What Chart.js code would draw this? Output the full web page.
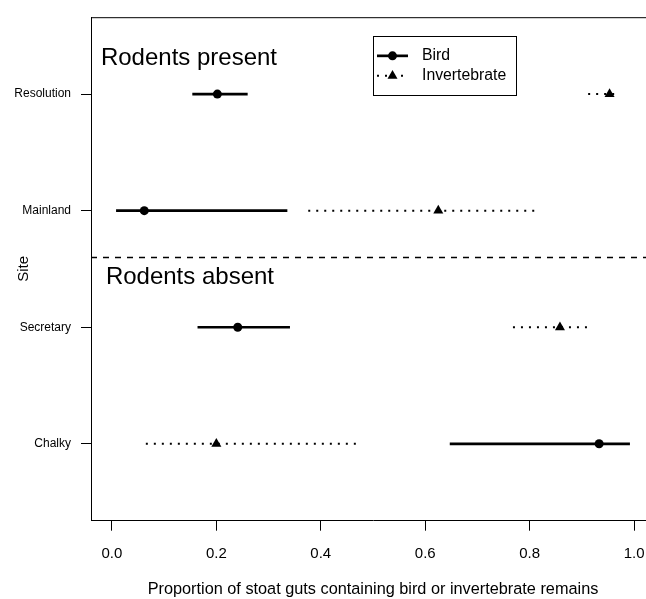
<!DOCTYPE html>
<html>
<head>
<meta charset="utf-8">
<script src="https://cdn.jsdelivr.net/npm/chart.js@4.4.1/dist/chart.umd.min.js"></script>
<style>
html, body { margin: 0; padding: 0; overflow: hidden; background: #fff; }
#wrap { width: 665px; height: 599px; }
</style>
</head>
<body>
<div id="wrap"><canvas id="chart" width="665" height="599"></canvas></div>
<script>
// sites from bottom (y = 1) to top (y = 4)
var sites = [ "Chalky", "Secretary", "Mainland", "Resolution" ];
var birdMean = [ 0.933, 0.241, 0.062, 0.202 ];
var birdLow = [ 0.647, 0.164, 0.008, 0.154 ];
var birdHigh = [ 0.992, 0.341, 0.336, 0.260 ];
var invertMean = [ 0.200, 0.858, 0.625, 0.953 ];
var invertLow = [ 0.065, 0.768, 0.376, 0.912 ];
var invertHigh = [ 0.472, 0.918, 0.814, 0.965 ];
var xTicks = [ 0, 0.2, 0.4, 0.6, 0.8, 1.0 ];
var seriesNames = [ "Bird", "Invertebrate" ];
var groupNames = [ "Rodents present", "Rodents absent" ];

var FONT = "'Liberation Sans', Arial, sans-serif";
var dotted = [ 2, 6 ];

var datasets = [];
sites.forEach( function( s, i ) {
    datasets.push( {
        type: "line",
        data: [ { x: birdLow[ i ], y: i + 1 }, { x: birdHigh[ i ], y: i + 1 } ],
        borderColor: "#000",
        borderWidth: 2.7,
        pointRadius: 0,
        order: 2
    } );
    datasets.push( {
        type: "line",
        data: [ { x: invertLow[ i ], y: i + 1 }, { x: invertHigh[ i ], y: i + 1 } ],
        borderColor: "#000",
        borderWidth: 2,
        borderDash: dotted,
        borderCapStyle: "butt",
        pointRadius: 0,
        order: 2
    } );
} );
datasets.push( {
    type: "scatter",
    label: seriesNames[ 0 ],
    data: birdMean.map( function( v, i ) { return { x: v, y: i + 1 }; } ),
    pointStyle: "circle",
    pointRadius: 4.5,
    backgroundColor: "#000",
    borderColor: "#000",
    borderWidth: 0,
    order: 1
} );
datasets.push( {
    type: "scatter",
    label: seriesNames[ 1 ],
    data: invertMean.map( function( v, i ) { return { x: v, y: i + 1 }; } ),
    pointStyle: "triangle",
    pointRadius: 5.8,
    backgroundColor: "#000",
    borderColor: "#000",
    borderWidth: 0,
    order: 1
} );

var extras = {
    id: "extras",
    afterDraw: function( chart ) {
        var ctx = chart.ctx, a = chart.chartArea;
        var xs = chart.scales.x, ys = chart.scales.y;
        ctx.save();
        // top of the box
        ctx.strokeStyle = "#000";
        ctx.lineWidth = 1;
        ctx.beginPath();
        ctx.moveTo( a.left, a.top + 0.5 );
        ctx.lineTo( a.right, a.top + 0.5 );
        ctx.stroke();
        // divider between groups
        var yd = Math.round( ys.getPixelForValue( 2.6 ) ) + 0.5;
        ctx.setLineDash( [ 6, 6 ] );
        ctx.lineWidth = 1.3;
        ctx.beginPath();
        ctx.moveTo( a.left, yd );
        ctx.lineTo( a.right, yd );
        ctx.stroke();
        ctx.setLineDash( [] );
        // group labels
        ctx.fillStyle = "#000";
        ctx.font = "24px " + FONT;
        ctx.textBaseline = "alphabetic";
        ctx.textAlign = "left";
        ctx.fillText( groupNames[ 0 ], xs.getPixelForValue( -0.021 ), ys.getPixelForValue( 4.25 ) );
        ctx.fillText( groupNames[ 1 ], xs.getPixelForValue( -0.0115 ), ys.getPixelForValue( 2.37 ) );
        // legend
        var lx = xs.getPixelForValue( 0.5 ), ly = ys.getPixelForValue( 4.5 );
        ctx.lineWidth = 1;
        ctx.strokeRect( Math.round( lx ) + 0.5, Math.round( ly ) + 0.5, 143, 59 );
        var r1 = ly + 20, r2 = ly + 40;
        ctx.lineWidth = 2.7;
        ctx.beginPath();
        ctx.moveTo( lx + 4, r1 );
        ctx.lineTo( lx + 35, r1 );
        ctx.stroke();
        ctx.beginPath();
        ctx.arc( lx + 19.5, r1, 4.5, 0, Math.PI * 2 );
        ctx.fill();
        ctx.lineWidth = 2;
        ctx.setLineDash( dotted );
        ctx.beginPath();
        ctx.moveTo( lx + 4, r2 );
        ctx.lineTo( lx + 35, r2 );
        ctx.stroke();
        ctx.setLineDash( [] );
        ctx.beginPath();
        ctx.moveTo( lx + 19.5, r2 - 5.8 );
        ctx.lineTo( lx + 24.5, r2 + 2.9 );
        ctx.lineTo( lx + 14.5, r2 + 2.9 );
        ctx.closePath();
        ctx.fill();
        ctx.font = "15.8px " + FONT;
        ctx.textBaseline = "middle";
        ctx.fillText( seriesNames[ 0 ], lx + 49, r1 );
        ctx.fillText( seriesNames[ 1 ], lx + 49, r2 );
        ctx.restore();
    }
};

var canvas = document.getElementById( "chart" );
new Chart( canvas.getContext( "2d" ), {
    type: "scatter",
    data: { datasets: datasets },
    plugins: [ extras ],
    options: {
        responsive: false,
        animation: false,
        devicePixelRatio: 1,
        layout: { padding: { top: 15, right: 10, left: 0, bottom: 0 } },
        plugins: {
            legend: { display: false },
            tooltip: { enabled: false }
        },
        scales: {
            x: {
                type: "linear",
                min: -0.04,
                max: 1.04,
                afterBuildTicks: function( axis ) {
                    axis.ticks = xTicks.map( function( v ) { return { value: v }; } );
                },
                afterFit: function( axis ) { axis.height = 78.3; },
                ticks: {
                    color: "#000",
                    font: { family: FONT, size: 15 },
                    padding: 14,
                    maxRotation: 0,
                    callback: function( v ) { return v.toFixed( 1 ); }
                },
                grid: { drawOnChartArea: false, tickLength: 10, tickColor: "#000", tickWidth: 1 },
                border: { display: true, color: "#000", width: 1 },
                title: {
                    display: true,
                    text: "Proportion of stoat guts containing bird or invertebrate remains",
                    color: "#000",
                    font: { family: FONT, size: 16.3 },
                    padding: { top: 0, bottom: 0 }
                }
            },
            y: {
                type: "linear",
                min: 0.34,
                max: 4.66,
                afterBuildTicks: function( axis ) {
                    axis.ticks = sites.map( function( s, i ) { return { value: i + 1 }; } );
                },
                afterFit: function( axis ) { axis.width = 91; },
                ticks: {
                    color: "#000",
                    font: { family: FONT, size: 12 },
                    padding: 10,
                    callback: function( v ) { return sites[ v - 1 ]; }
                },
                grid: { drawOnChartArea: false, tickLength: 10, tickColor: "#000", tickWidth: 1 },
                border: { display: true, color: "#000", width: 1 },
                title: {
                    display: true,
                    text: "Site",
                    color: "#000",
                    font: { family: FONT, size: 15 },
                    padding: { top: 15, bottom: 0 }
                }
            }
        }
    }
} );
</script>
</body>
</html>
